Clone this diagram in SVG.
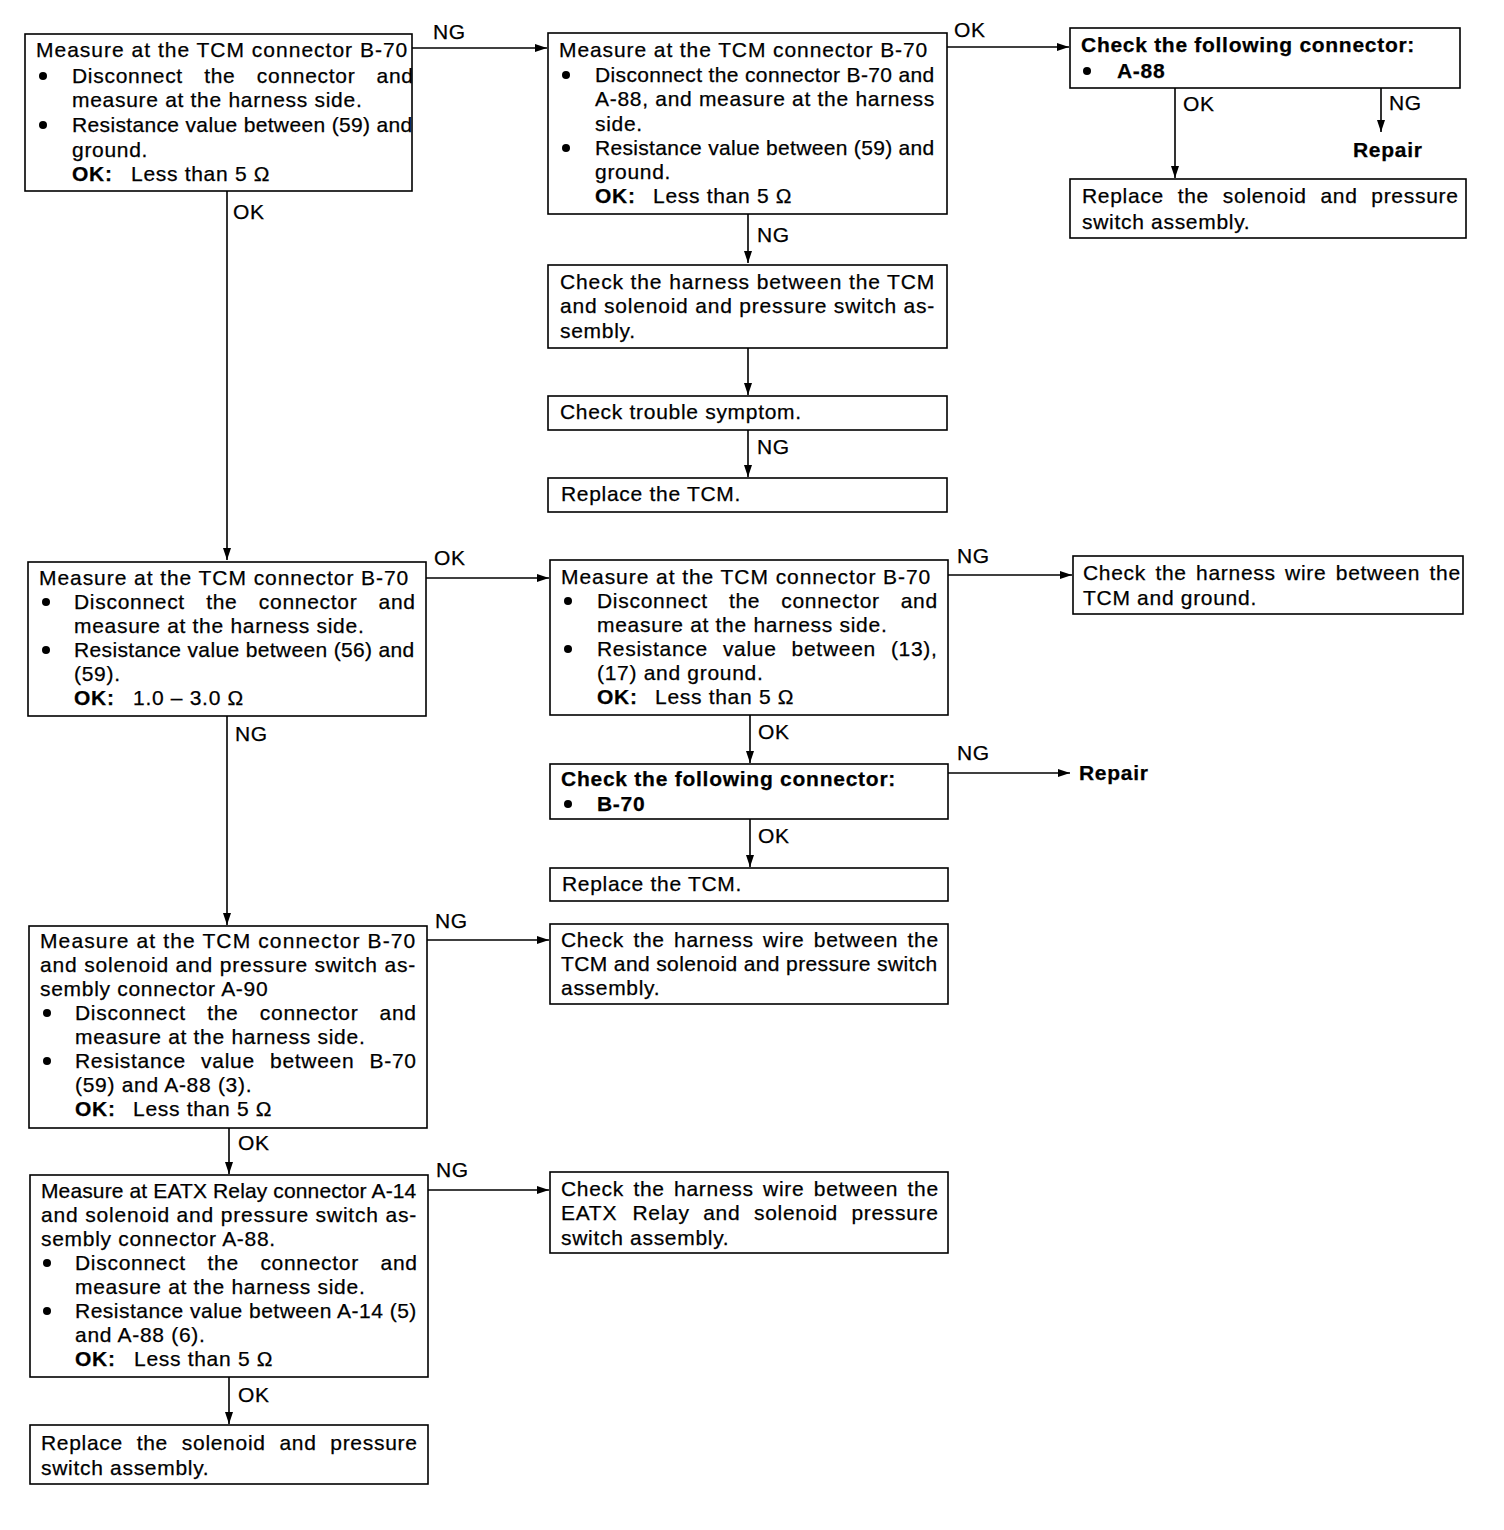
<svg xmlns="http://www.w3.org/2000/svg" width="1504" height="1530" viewBox="0 0 1504 1530">
<style>
.bg{fill:#fff}
.box{fill:#fff;stroke:#000;stroke-width:1.6}
.t{font-family:"Liberation Sans",Arial,Helvetica,sans-serif;font-size:21px;letter-spacing:0.7px;fill:#000;stroke:#000;stroke-width:0.25}
.b{font-weight:bold}
.dot{fill:#000}
.c{fill:none;stroke:#000;stroke-width:1.6;marker-end:url(#ah)}
</style>
<defs>
<marker id="ah" markerUnits="userSpaceOnUse" markerWidth="12" markerHeight="8" refX="12" refY="4" orient="auto">
<path d="M0,0 L12,4 L0,8 z" fill="#000"/>
</marker>
</defs>
<rect class="bg" width="1504" height="1530"/>

<g id="connectors">
<path class="c" d="M412,48 H547"/>
<path class="c" d="M947,47 H1069"/>
<path class="c" d="M1175,88 V178"/>
<path class="c" d="M1381,88 V132"/>
<path class="c" d="M748,214 V263"/>
<path class="c" d="M748,348 V395"/>
<path class="c" d="M748,430 V477"/>
<path class="c" d="M227,191 V560"/>
<path class="c" d="M426,578 H549"/>
<path class="c" d="M948,575 H1072"/>
<path class="c" d="M750,715 V763"/>
<path class="c" d="M948,773 H1070"/>
<path class="c" d="M750,819 V867"/>
<path class="c" d="M227,716 V925"/>
<path class="c" d="M427,940 H549"/>
<path class="c" d="M229,1128 V1174"/>
<path class="c" d="M428,1190 H549"/>
<path class="c" d="M229,1377 V1424"/>
<g class="t">
<text x="433" y="39">NG</text>
<text x="954" y="37">OK</text>
<text x="1183" y="111">OK</text>
<text x="1389" y="110">NG</text>
<text x="233" y="219">OK</text>
<text x="757" y="242">NG</text>
<text x="757" y="454">NG</text>
<text x="434" y="565">OK</text>
<text x="957" y="563">NG</text>
<text x="235" y="741">NG</text>
<text x="758" y="739">OK</text>
<text x="957" y="760">NG</text>
<text x="758" y="843">OK</text>
<text x="435" y="928">NG</text>
<text x="238" y="1150">OK</text>
<text x="436" y="1177">NG</text>
<text x="238" y="1402">OK</text>
</g>
</g>

<g id="n1">
<rect class="box" x="25" y="34" width="387" height="157"/>
<g class="t">
<text x="36" y="57" textLength="372">Measure at the TCM connector B-70</text>
<text y="83"><tspan x="72">Disconnect</tspan> <tspan x="204.2">the</tspan> <tspan x="256.8">connector</tspan> <tspan x="376.6">and</tspan></text>
<text x="72" y="107">measure at the harness side.</text>
<text x="72" y="132" textLength="341">Resistance value between (59) and</text>
<text x="72" y="157">ground.</text>
<text y="181"><tspan x="72" class="b">OK:</tspan> <tspan x="131">Less than 5 Ω</tspan></text>
</g>
<circle class="dot" cx="43" cy="76" r="4"/>
<circle class="dot" cx="43" cy="125" r="4"/>
</g>

<g id="n2">
<rect class="box" x="548" y="33" width="399" height="181"/>
<g class="t">
<text x="559" y="57" textLength="369">Measure at the TCM connector B-70</text>
<text x="595" y="82" textLength="340">Disconnect the connector B-70 and</text>
<text x="595" y="106" textLength="340">A-88, and measure at the harness</text>
<text x="595" y="131">side.</text>
<text x="595" y="155" textLength="340">Resistance value between (59) and</text>
<text x="595" y="179">ground.</text>
<text y="203"><tspan x="595" class="b">OK:</tspan> <tspan x="653">Less than 5 Ω</tspan></text>
</g>
<circle class="dot" cx="566" cy="75" r="4"/>
<circle class="dot" cx="566" cy="148" r="4"/>
</g>

<g id="n3">
<rect class="box" x="1070" y="28" width="390" height="60"/>
<g class="t b">
<text x="1081" y="52" textLength="334">Check the following connector:</text>
<text x="1117" y="78">A-88</text>
</g>
<circle class="dot" cx="1087" cy="71" r="4"/>
</g>

<g id="repair1">
<text class="t b" x="1353" y="157">Repair</text>
</g>

<g id="n4">
<rect class="box" x="1070" y="179" width="396" height="59"/>
<g class="t">
<text y="203"><tspan x="1082">Replace</tspan> <tspan x="1177.7">the</tspan> <tspan x="1222.8">solenoid</tspan> <tspan x="1320.4">and</tspan> <tspan x="1371.3">pressure</tspan></text>
<text x="1082" y="229">switch assembly.</text>
</g>
</g>

<g id="n5">
<rect class="box" x="548" y="265" width="399" height="83"/>
<g class="t">
<text x="560" y="289" textLength="375">Check the harness between the TCM</text>
<text x="560" y="313" textLength="375">and solenoid and pressure switch as-</text>
<text x="560" y="338">sembly.</text>
</g>
</g>

<g id="n6">
<rect class="box" x="548" y="396" width="399" height="34"/>
<text class="t" x="560" y="419">Check trouble symptom.</text>
</g>

<g id="n7">
<rect class="box" x="548" y="478" width="399" height="34"/>
<text class="t" x="561" y="501">Replace the TCM.</text>
</g>

<g id="n8">
<rect class="box" x="28" y="562" width="398" height="154"/>
<g class="t">
<text x="39" y="585" textLength="370">Measure at the TCM connector B-70</text>
<text y="609"><tspan x="74">Disconnect</tspan> <tspan x="206.2">the</tspan> <tspan x="258.8">connector</tspan> <tspan x="378.6">and</tspan></text>
<text x="74" y="633">measure at the harness side.</text>
<text x="74" y="657" textLength="341">Resistance value between (56) and</text>
<text x="74" y="681">(59).</text>
<text y="705"><tspan x="74" class="b">OK:</tspan> <tspan x="133">1.0 – 3.0 Ω</tspan></text>
</g>
<circle class="dot" cx="46" cy="602" r="4"/>
<circle class="dot" cx="46" cy="650" r="4"/>
</g>

<g id="n9">
<rect class="box" x="550" y="560" width="398" height="155"/>
<g class="t">
<text x="561" y="584" textLength="370">Measure at the TCM connector B-70</text>
<text y="608"><tspan x="597">Disconnect</tspan> <tspan x="728.9">the</tspan> <tspan x="781.2">connector</tspan> <tspan x="900.7">and</tspan></text>
<text x="597" y="632">measure at the harness side.</text>
<text y="656"><tspan x="597">Resistance</tspan> <tspan x="722.9">value</tspan> <tspan x="791.6">between</tspan> <tspan x="890.9">(13),</tspan></text>
<text x="597" y="680">(17) and ground.</text>
<text y="704"><tspan x="597" class="b">OK:</tspan> <tspan x="655">Less than 5 Ω</tspan></text>
</g>
<circle class="dot" cx="568" cy="601" r="4"/>
<circle class="dot" cx="568" cy="649" r="4"/>
</g>

<g id="n10">
<rect class="box" x="1073" y="556" width="390" height="58"/>
<g class="t">
<text y="580"><tspan x="1083">Check</tspan> <tspan x="1155.4">the</tspan> <tspan x="1196.1">harness</tspan> <tspan x="1285.1">wire</tspan> <tspan x="1335.8">between</tspan> <tspan x="1429.5">the</tspan></text>
<text x="1083" y="605">TCM and ground.</text>
</g>
</g>

<g id="n11">
<rect class="box" x="550" y="764" width="398" height="55"/>
<g class="t b">
<text x="561" y="786" textLength="335">Check the following connector:</text>
<text x="597" y="811">B-70</text>
</g>
<circle class="dot" cx="568" cy="804" r="4"/>
</g>

<g id="repair2">
<text class="t b" x="1079" y="780">Repair</text>
</g>

<g id="n12">
<rect class="box" x="550" y="868" width="398" height="33"/>
<text class="t" x="562" y="891">Replace the TCM.</text>
</g>

<g id="n13">
<rect class="box" x="29" y="926" width="398" height="202"/>
<g class="t">
<text x="40" y="948" textLength="376">Measure at the TCM connector B-70</text>
<text x="40" y="972" textLength="376">and solenoid and pressure switch as-</text>
<text x="40" y="996">sembly connector A-90</text>
<text y="1020"><tspan x="75">Disconnect</tspan> <tspan x="207.2">the</tspan> <tspan x="259.8">connector</tspan> <tspan x="379.6">and</tspan></text>
<text x="75" y="1044">measure at the harness side.</text>
<text y="1068"><tspan x="75">Resistance</tspan> <tspan x="201.1">value</tspan> <tspan x="270">between</tspan> <tspan x="369.5">B-70</tspan></text>
<text x="75" y="1092">(59) and A-88 (3).</text>
<text y="1116"><tspan x="75" class="b">OK:</tspan> <tspan x="133">Less than 5 Ω</tspan></text>
</g>
<circle class="dot" cx="47" cy="1013" r="4"/>
<circle class="dot" cx="47" cy="1061" r="4"/>
</g>

<g id="n14">
<rect class="box" x="550" y="924" width="398" height="80"/>
<g class="t">
<text y="947"><tspan x="561">Check</tspan> <tspan x="633.4">the</tspan> <tspan x="674.1">harness</tspan> <tspan x="763.1">wire</tspan> <tspan x="813.8">between</tspan> <tspan x="907.5">the</tspan></text>
<text x="561" y="971" textLength="377">TCM and solenoid and pressure switch</text>
<text x="561" y="995">assembly.</text>
</g>
</g>

<g id="n15">
<rect class="box" x="30" y="1175" width="398" height="202"/>
<g class="t">
<text x="41" y="1198" textLength="376">Measure at EATX Relay connector A-14</text>
<text x="41" y="1222" textLength="376">and solenoid and pressure switch as-</text>
<text x="41" y="1246">sembly connector A-88.</text>
<text y="1270"><tspan x="75">Disconnect</tspan> <tspan x="207.5">the</tspan> <tspan x="260.4">connector</tspan> <tspan x="380.5">and</tspan></text>
<text x="75" y="1294">measure at the harness side.</text>
<text x="75" y="1318" textLength="342">Resistance value between A-14 (5)</text>
<text x="75" y="1342">and A-88 (6).</text>
<text y="1366"><tspan x="75" class="b">OK:</tspan> <tspan x="134">Less than 5 Ω</tspan></text>
</g>
<circle class="dot" cx="47" cy="1263" r="4"/>
<circle class="dot" cx="47" cy="1311" r="4"/>
</g>

<g id="n16">
<rect class="box" x="550" y="1172" width="398" height="81"/>
<g class="t">
<text y="1196"><tspan x="561">Check</tspan> <tspan x="633.4">the</tspan> <tspan x="674.1">harness</tspan> <tspan x="763.1">wire</tspan> <tspan x="813.8">between</tspan> <tspan x="907.5">the</tspan></text>
<text y="1220"><tspan x="561">EATX</tspan> <tspan x="632.4">Relay</tspan> <tspan x="703.2">and</tspan> <tspan x="754">solenoid</tspan> <tspan x="851.4">pressure</tspan></text>
<text x="561" y="1245">switch assembly.</text>
</g>
</g>

<g id="n17">
<rect class="box" x="30" y="1425" width="398" height="59"/>
<g class="t">
<text y="1450"><tspan x="41">Replace</tspan> <tspan x="136.7">the</tspan> <tspan x="181.8">solenoid</tspan> <tspan x="279.4">and</tspan> <tspan x="330.3">pressure</tspan></text>
<text x="41" y="1475">switch assembly.</text>
</g>
</g>
</svg>
